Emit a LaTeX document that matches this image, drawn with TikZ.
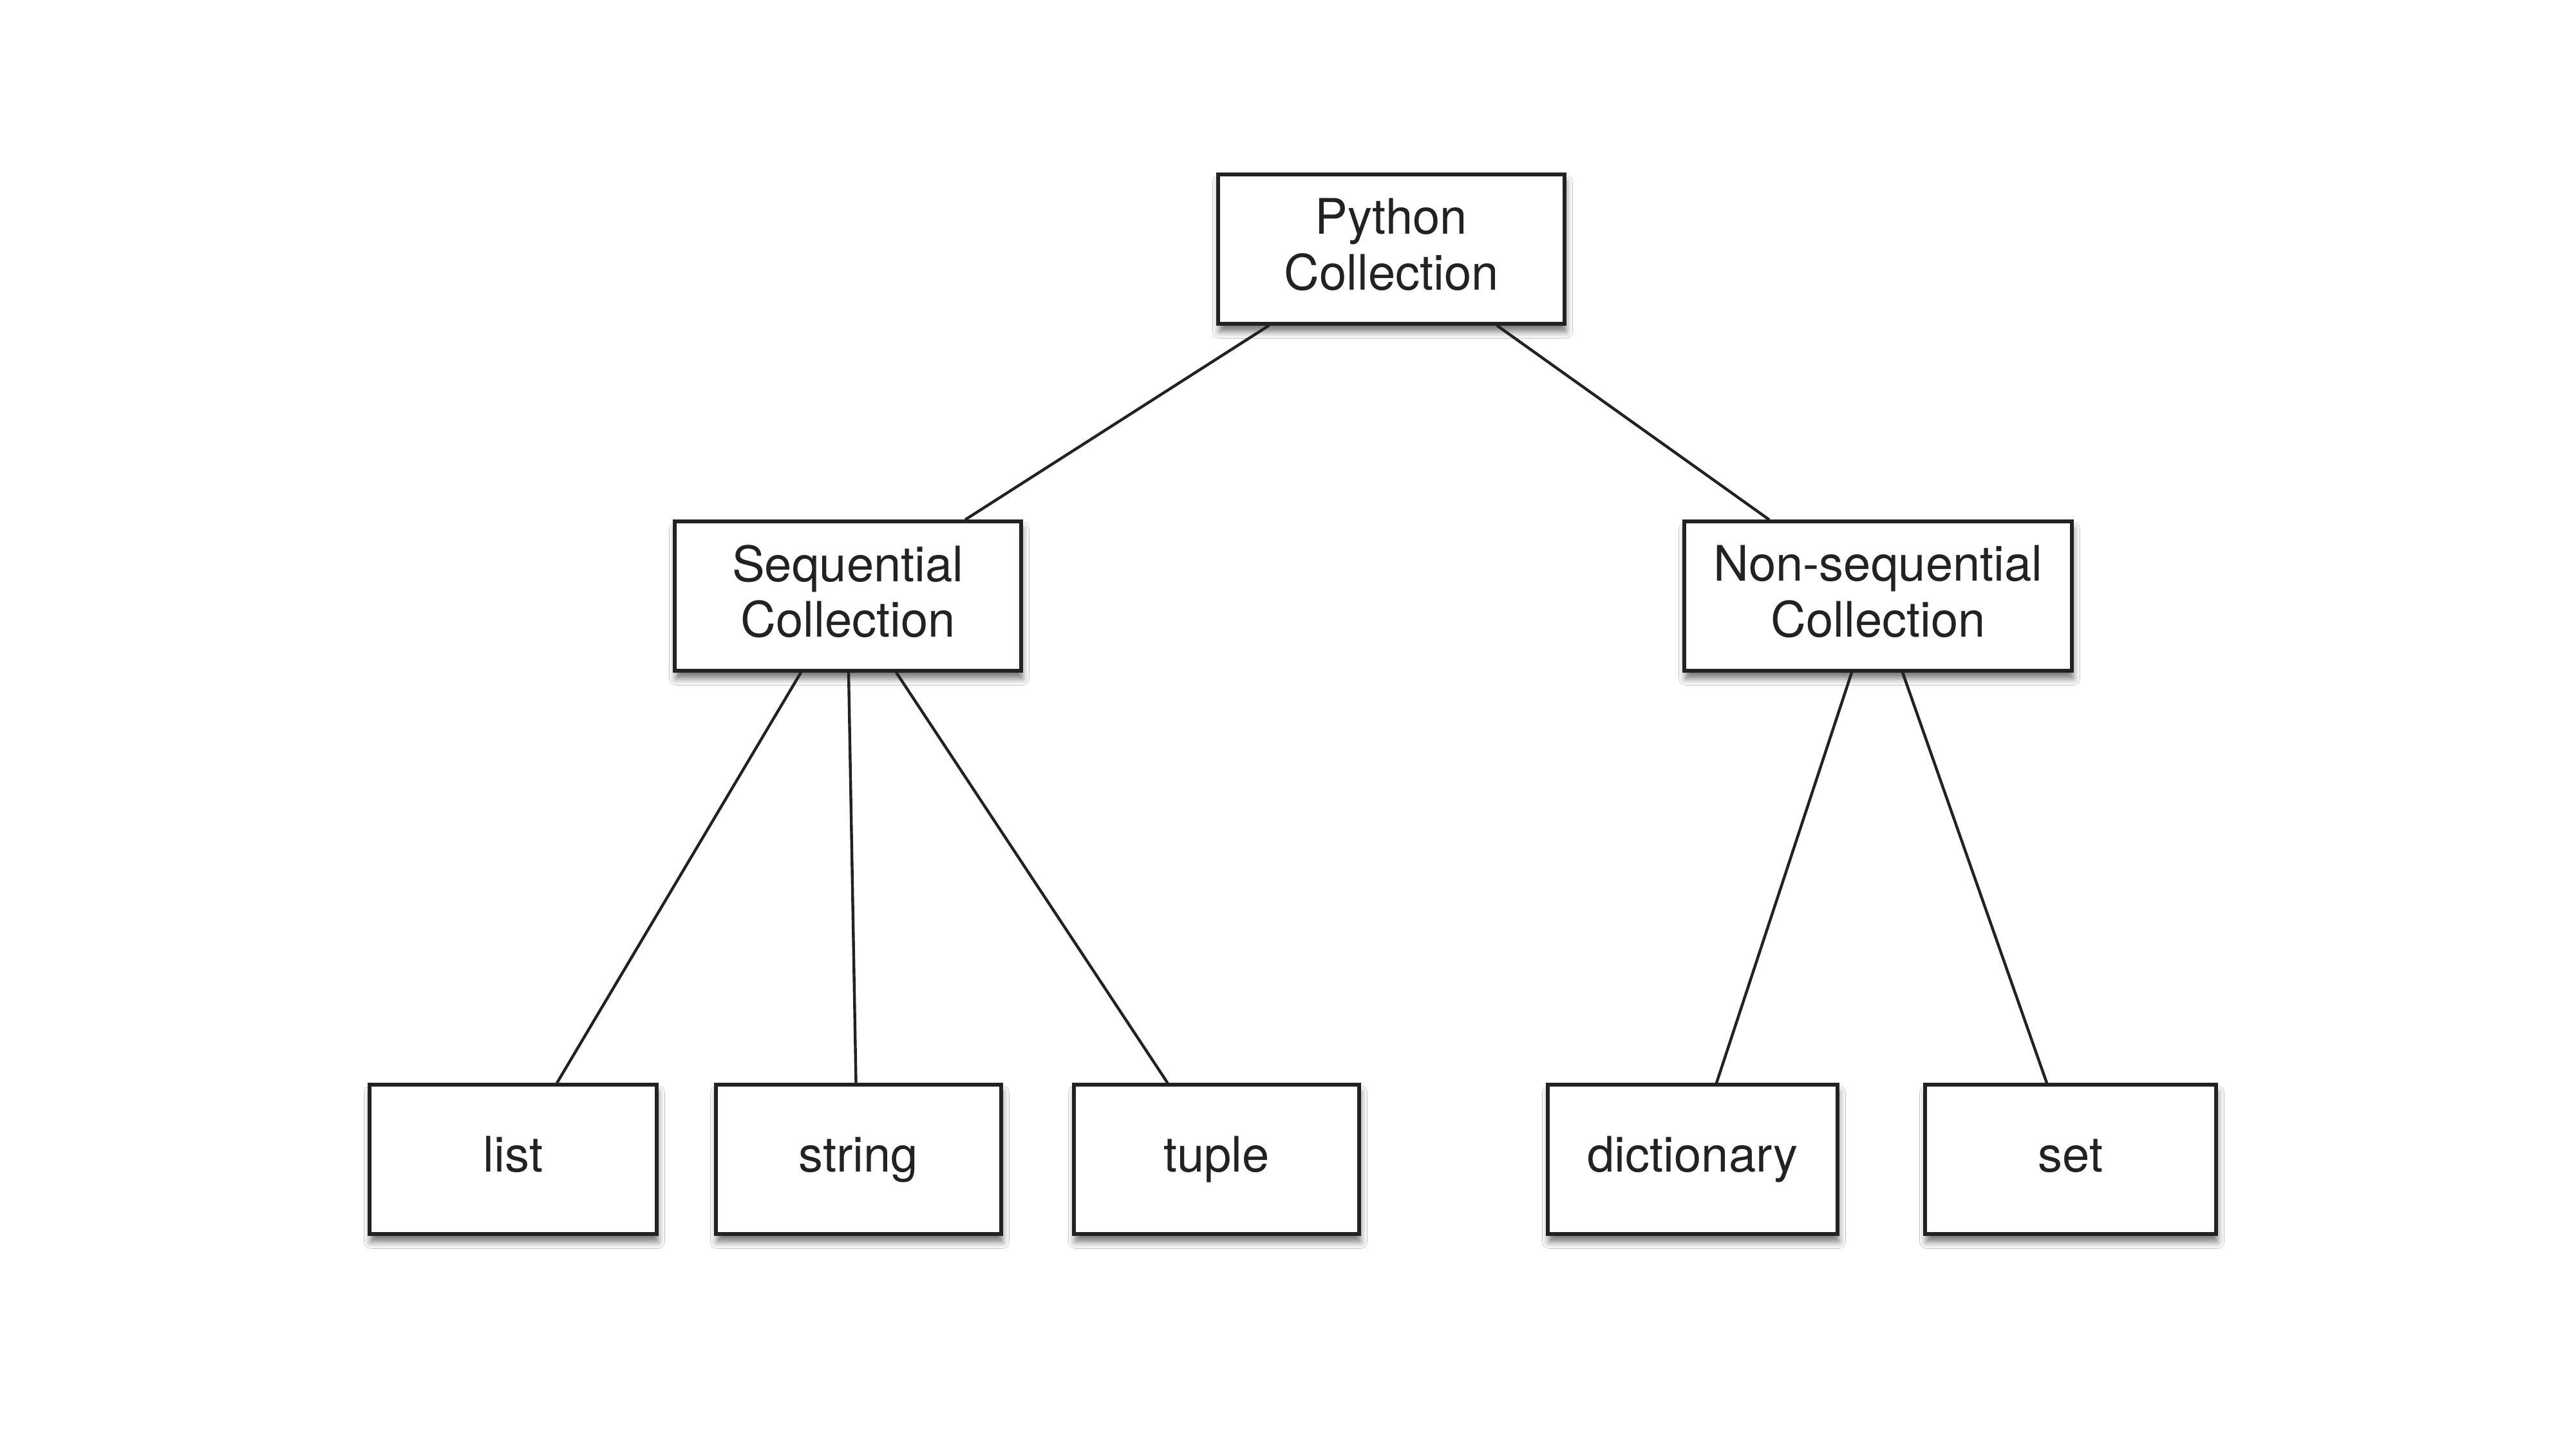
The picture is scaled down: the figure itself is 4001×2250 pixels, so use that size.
\documentclass[tikz,border=0pt]{standalone}
\usepackage{fontspec}
\setmainfont{TeX Gyre Heros}
\usetikzlibrary{calc,shadows.blur}
\definecolor{ink}{HTML}{222222}
\tikzset{
  box/.style={draw=ink, line width=1.3pt, fill=white, inner sep=0pt, align=center,
    text=ink, font=\fontsize{19}{21.7}\selectfont, minimum height=58pt,
    blur shadow={shadow xshift=0.5pt, shadow yshift=-3pt, shadow blur radius=2.6pt, shadow opacity=55}},
  twoline/.style={box, text depth=4pt},
  oneline/.style={box, text height=13.7pt, text depth=4pt},
  link/.style={draw=ink, line width=1.1pt}
}
\begin{document}
\begin{tikzpicture}[x=0.25pt, y=-0.25pt]
\useasboundingbox[fill=white] (0,0) rectangle (4001,2250);
\node[twoline, minimum width=134.5pt] (py) at (2161,387) {Python\\Collection};
\node[twoline, minimum width=134.5pt] (seq) at (1317,926) {Sequential\\Collection};
\node[twoline, minimum width=150.5pt] (ns) at (2917,926) {Non-sequential\\Collection};
\node[oneline, minimum width=111.5pt] (list) at (797,1801) {list};
\node[oneline, minimum width=110.75pt] (string) at (1333.5,1801) {string};
\node[oneline, minimum width=110.75pt] (tuple) at (1889.5,1801) {tuple};
\node[oneline, minimum width=112.5pt] (dict) at (2629,1801) {dictionary};
\node[oneline, minimum width=113pt] (set) at (3216,1801) {set};
\draw[link] ($(py.south)+(-190,0)$) -- ($(seq.north)+(182,0)$);
\draw[link] ($(py.south)+(164,0)$) -- ($(ns.north)+(-169,0)$);
\draw[link] ($(seq.south)+(-73,0)$) -- ($(list.north)+(68,0)$);
\draw[link] ($(seq.south)+(1,0)$) -- ($(string.north)+(-4,0)$);
\draw[link] ($(seq.south)+(75,0)$) -- ($(tuple.north)+(-76,0)$);
\draw[link] ($(ns.south)+(-41,0)$) -- ($(dict.north)+(37,0)$);
\draw[link] ($(ns.south)+(38,0)$) -- ($(set.north)+(-37,0)$);
\end{tikzpicture}
\end{document}
